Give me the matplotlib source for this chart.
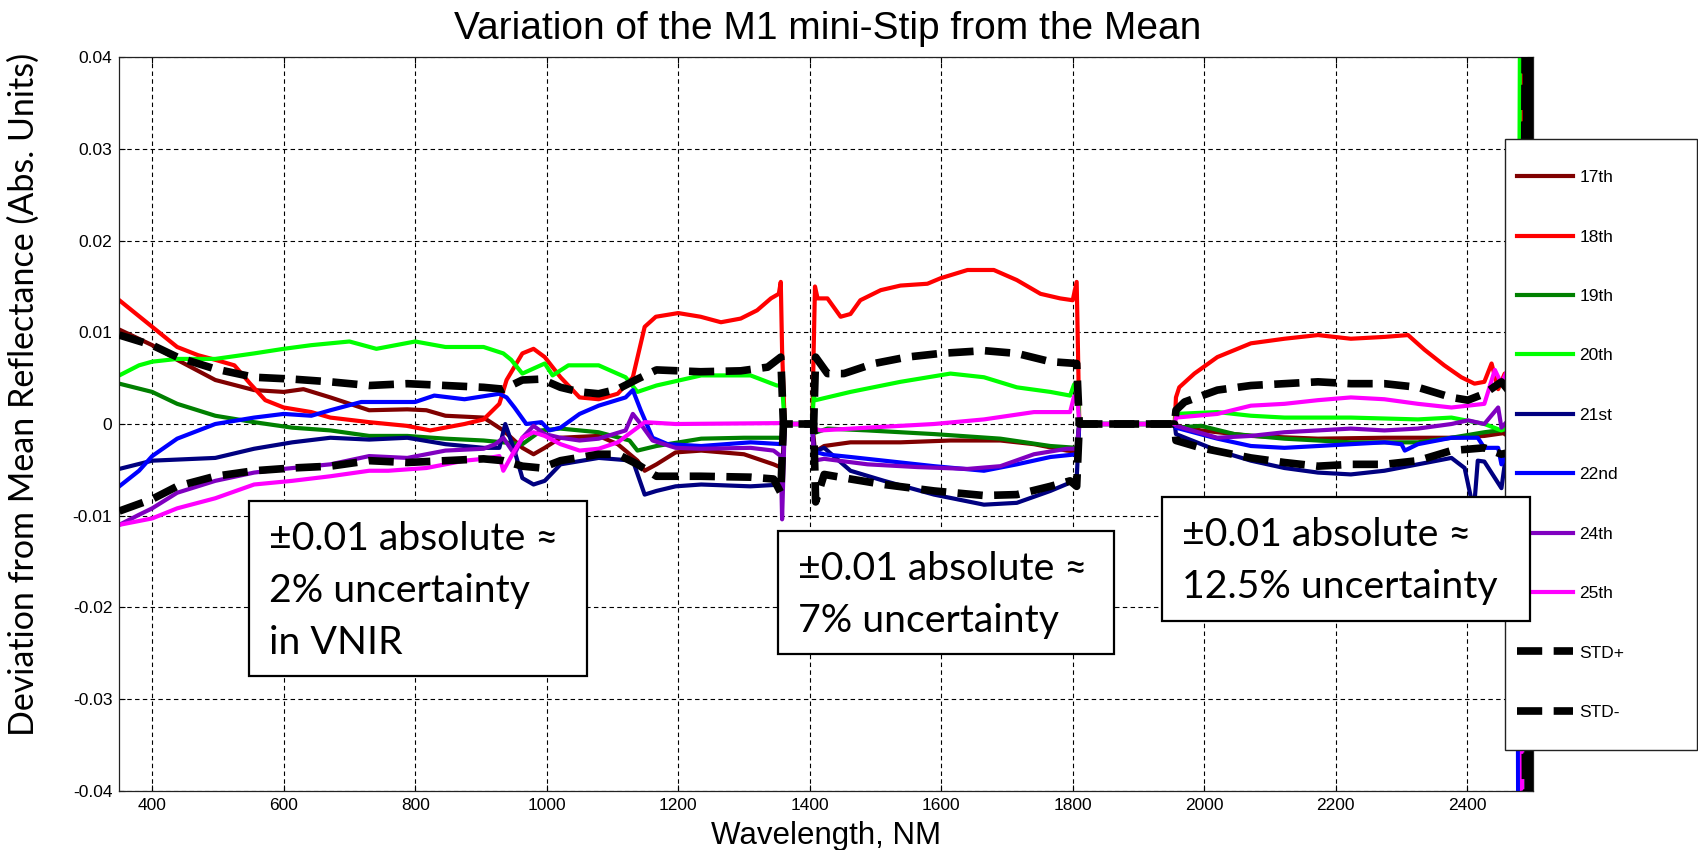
import matplotlib
matplotlib.use("Agg")
import matplotlib.pyplot as plt
from matplotlib.patches import Rectangle

W, H = 1698, 850

# series: (wavelength nm, deviation)
dev_17th = [(350, .0103), (400, .0086), (438, .007), (496, .0048), (555, .0037), (600, .0035), (630, .0038),
            (671, .0029), (730, .0015), (788, .0016), (817, .0015), (846, .0009), (904, .0007), (934, -.0007),
            (963, -.0026), (980, -.0033), (997, -.0026), (1021, -.0015), (1079, -.0013), (1108, -.0022),
            (1138, -.004), (1149, -.0051), (1167, -.0044), (1196, -.0031), (1235, -.0029), (1300, -.0033),
            (1345, -.0044), (1358, -.0048), (1362, 0), (1404, 0), (1408, -.003), (1422, -.0024), (1462, -.002),
            (1538, -.002), (1614, -.0018), (1690, -.0018), (1741, -.0022), (1791, -.0029), (1806, -.003),
            (1810, 0), (1955, 0), (1957, -.0002), (1995, -.0007), (2071, -.0013), (2173, -.0016), (2274, -.0015),
            (2376, -.0015), (2426, -.0013), (2455, -.001), (2476, -.002), (2482, -.002), (2486, .06)]

dev_18th = [(350, .0135), (400, .0106), (438, .0084), (470, .0075), (496, .007), (525, .0064), (549, .0044),
            (572, .0026), (600, .0018), (642, .0013), (671, .0007), (730, .0002), (787, -.0002), (823, -.0007),
            (875, 0), (904, .0005), (928, .0022), (939, .0048), (963, .0077), (980, .0082), (997, .0073),
            (1021, .0051), (1050, .0029), (1079, .0027), (1108, .0033), (1131, .0051), (1149, .0106),
            (1166, .0117), (1200, .0121), (1234, .0117), (1265, .0111), (1295, .0115), (1320, .0124),
            (1341, .0137), (1353, .0142), (1356, .0155), (1358, .008), (1362, 0), (1404, 0), (1406, .008),
            (1408, .015), (1412, .0137), (1427, .0137), (1447, .0117), (1462, .012), (1477, .0135), (1508, .0146),
            (1538, .0151), (1579, .0153), (1599, .0159), (1640, .0168), (1680, .0168), (1715, .0157),
            (1751, .0142), (1781, .0137), (1800, .0135), (1806, .0155), (1808, .008), (1810, 0), (1955, 0),
            (1957, .0029), (1962, .004), (1985, .0055), (2020, .0073), (2071, .0088), (2122, .0093),
            (2173, .0097), (2223, .0093), (2274, .0095), (2310, .0097), (2335, .0081), (2365, .0064),
            (2391, .0051), (2411, .0044), (2426, .0046), (2437, .0066), (2447, .0038), (2457, .0055),
            (2470, .005), (2482, .004), (2486, .06)]

dev_19th = [(350, .0044), (400, .0035), (438, .0022), (496, .0009), (555, .0002), (613, -.0004), (671, -.0007),
            (730, -.0013), (788, -.0013), (846, -.0016), (904, -.0018), (963, -.0022), (992, -.0007),
            (1021, -.0005), (1079, -.0009), (1126, -.0018), (1138, -.0029), (1167, -.0024), (1235, -.0016),
            (1300, -.0015), (1358, -.0015), (1362, 0), (1404, 0), (1406, -.001), (1427, -.0005), (1488, -.0007),
            (1589, -.0011), (1690, -.0016), (1766, -.0024), (1806, -.0026), (1810, 0), (1955, 0), (1957, -.0004),
            (1995, -.0002), (2046, -.0011), (2122, -.0016), (2223, -.002), (2325, -.002), (2376, -.0015),
            (2426, -.0009), (2470, -.0005), (2482, -.001), (2486, -.06)]

dev_20th = [(350, .0053), (380, .0064), (400, .0068), (438, .0071), (496, .0071), (555, .0077), (600, .0082),
            (642, .0086), (700, .009), (741, .0082), (800, .009), (846, .0084), (904, .0084), (934, .0077),
            (946, .007), (963, .0055), (997, .0066), (1009, .0053), (1033, .0064), (1079, .0064), (1120, .0051),
            (1138, .0035), (1167, .0042), (1235, .0053), (1310, .0053), (1350, .0042), (1358, .0042), (1362, 0),
            (1404, 0), (1406, .003), (1409, .0026), (1462, .0035), (1538, .0046), (1614, .0055), (1665, .0051),
            (1715, .004), (1766, .0035), (1796, .0031), (1802, .0043), (1808, .004), (1810, 0), (1955, 0),
            (1957, .0011), (2020, .0013), (2071, .0009), (2122, .0007), (2223, .0007), (2325, .0005),
            (2376, .0007), (2426, 0), (2452, -.0007), (2470, 0), (2478, 0), (2481, .06)]

dev_21st = [(350, -.0049), (400, -.004), (496, -.0037), (555, -.0027), (613, -.002), (671, -.0015), (730, -.0017),
            (788, -.0015), (846, -.0022), (904, -.0026), (928, -.0026), (937, 0), (951, -.0029), (963, -.0059),
            (980, -.0066), (997, -.0062), (1021, -.0044), (1079, -.0037), (1131, -.004), (1149, -.0077),
            (1167, -.0073), (1196, -.0068), (1235, -.0066), (1310, -.0068), (1358, -.0066), (1362, 0), (1404, 0),
            (1406, -.003), (1422, -.0026), (1462, -.0051), (1513, -.0062), (1589, -.0077), (1665, -.0088),
            (1715, -.0086), (1766, -.0073), (1796, -.0064), (1806, -.006), (1810, 0), (1955, 0), (1957, -.0011),
            (2020, -.0029), (2071, -.004), (2122, -.0048), (2173, -.0053), (2223, -.0055), (2274, -.0051),
            (2325, -.0044), (2376, -.0037), (2396, -.0048), (2410, -.0095), (2416, -.004), (2426, -.0041),
            (2452, -.007), (2457, -.0044), (2470, -.003), (2478, -.003), (2480, -.06)]

dev_22nd = [(350, -.0068), (380, -.0051), (400, -.0035), (438, -.0016), (496, 0), (555, .0007), (600, .0011),
            (642, .0009), (671, .0015), (718, .0024), (800, .0024), (829, .0031), (875, .0027), (928, .0033),
            (939, .0029), (951, .0018), (969, 0), (992, .0002), (1004, -.0007), (1021, -.0004), (1050, .0011),
            (1079, .002), (1120, .0029), (1131, .0037), (1143, .0015), (1161, -.0015), (1184, -.0022),
            (1235, -.0024), (1310, -.002), (1358, -.0022), (1362, 0), (1404, 0), (1406, -.003), (1422, -.0033),
            (1462, -.0036), (1513, -.004), (1589, -.0046), (1665, -.0051), (1715, -.0044), (1766, -.0036),
            (1806, -.0033), (1810, 0), (1955, 0), (1957, -.0004), (2020, -.0016), (2071, -.0024), (2122, -.0026),
            (2173, -.0024), (2223, -.0022), (2274, -.002), (2300, -.0022), (2305, -.0029), (2325, -.0022),
            (2376, -.0015), (2416, -.0015), (2426, -.0026), (2447, -.0026), (2452, -.0044), (2470, -.002),
            (2476, -.002), (2478, -.06)]

dev_24th = [(350, -.011), (380, -.0099), (400, -.0092), (438, -.0075), (496, -.0062), (555, -.0053), (600, -.0049),
            (671, -.0044), (730, -.0035), (788, -.0037), (817, -.0033), (846, -.0029), (904, -.0027),
            (922, -.0022), (934, -.0015), (951, -.0033), (963, -.0015), (980, -.0002), (997, -.0011),
            (1021, -.0015), (1050, -.0018), (1079, -.0016), (1120, -.0007), (1131, .0011), (1143, 0),
            (1161, -.0018), (1196, -.0026), (1235, -.0027), (1310, -.0026), (1345, -.0029), (1356, -.0035),
            (1358, -.0104), (1362, 0), (1404, 0), (1406, -.004), (1422, -.0038), (1488, -.0044), (1564, -.0047),
            (1640, -.0049), (1690, -.0046), (1741, -.0033), (1791, -.0027), (1806, -.0027), (1810, 0), (1955, 0),
            (1957, -.0002), (2020, -.0015), (2071, -.0013), (2122, -.0009), (2173, -.0007), (2223, -.0005),
            (2274, -.0007), (2325, -.0005), (2376, 0), (2401, .0004), (2426, 0), (2447, .0018), (2452, -.0004),
            (2470, .001), (2482, 0), (2485, -.06)]

dev_25th = [(350, -.011), (400, -.0103), (438, -.0092), (496, -.0081), (555, -.0066), (613, -.0062), (671, -.0057),
            (730, -.0051), (759, -.0051), (817, -.0048), (875, -.004), (904, -.0038), (928, -.0035),
            (934, -.0051), (951, -.0029), (963, -.0015), (980, -.0009), (997, -.0013), (1021, -.0022),
            (1050, -.0029), (1079, -.0027), (1108, -.002), (1138, -.0004), (1149, .0002), (1196, 0),
            (1358, .0001), (1362, 0), (1404, 0), (1406, -.0005), (1417, -.0007), (1488, -.0004), (1589, 0),
            (1665, .0005), (1741, .0013), (1796, .0013), (1802, .003), (1808, .002), (1810, 0), (1955, 0),
            (1957, .0007), (2020, .0011), (2071, .002), (2122, .0022), (2173, .0026), (2223, .0029),
            (2274, .0027), (2325, .0022), (2376, .0018), (2426, .0022), (2442, .0059), (2452, .0044),
            (2462, .006), (2470, .002), (2482, .002), (2484, -.06)]

std_plus = [(350, .0097), (400, .0086), (438, .0073), (496, .006), (555, .0051), (613, .0049), (671, .0046),
            (730, .0042), (788, .0044), (846, .0042), (904, .004), (934, .0038), (963, .0048), (992, .0049),
            (1021, .004), (1050, .0035), (1079, .0033), (1108, .0038), (1138, .0049), (1167, .0059),
            (1234, .0057), (1295, .0058), (1336, .0062), (1356, .0073), (1360, 0), (1406, 0), (1409, .0073),
            (1427, .0055), (1452, .0055), (1498, .0066), (1548, .0073), (1599, .0077), (1665, .008),
            (1715, .0077), (1766, .0068), (1806, .0066), (1810, 0), (1955, 0), (1957, .0015), (1970, .0024),
            (2020, .0037), (2071, .0042), (2122, .0044), (2173, .0046), (2223, .0044), (2274, .0044),
            (2325, .004), (2376, .0029), (2401, .0026), (2426, .0033), (2452, .0046), (2470, .003),
            (2486, .003), (2489, .06), (2494, -.06), (2500, .06)]

std_minus = [(350, -.0095), (400, -.0082), (438, -.0068), (496, -.0057), (555, -.0051), (613, -.0048),
             (671, -.0046), (730, -.004), (788, -.0042), (846, -.004), (904, -.0038), (934, -.004), (963, -.0046),
             (992, -.0048), (1021, -.004), (1079, -.0033), (1108, -.0033), (1138, -.0044), (1167, -.0057),
             (1234, -.0057), (1310, -.0058), (1345, -.006), (1356, -.0075), (1360, 0), (1406, 0), (1409, -.0085),
             (1422, -.0055), (1462, -.006), (1513, -.0066), (1589, -.0073), (1665, -.0078), (1715, -.0077),
             (1766, -.0068), (1796, -.0062), (1806, -.0068), (1810, 0), (1955, 0), (1957, -.0018),
             (1995, -.0026), (2071, -.0037), (2122, -.0042), (2173, -.0046), (2223, -.0044), (2274, -.0044),
             (2325, -.004), (2376, -.0029), (2426, -.0026), (2452, -.0033), (2470, -.003), (2486, -.003),
             (2490, -.06), (2496, .06), (2500, -.06)]

labels = ["17th", "18th", "19th", "20th", "21st", "22nd", "24th", "25th", "STD+", "STD-"]
series = [dev_17th, dev_18th, dev_19th, dev_20th, dev_21st, dev_22nd, dev_24th, dev_25th, std_plus, std_minus]
colors = ["#800000", "#ff0000", "#008000", "#00ff00", "#000080", "#0000ff", "#8000c0", "#ff00ff", "black", "black"]

xticks = [400, 600, 800, 1000, 1200, 1400, 1600, 1800, 2000, 2200, 2400]
yticks = [-0.04, -0.03, -0.02, -0.01, 0, 0.01, 0.02, 0.03, 0.04]
ytick_labels = ["-0.04", "-0.03", "-0.02", "-0.01", "0", "0.01", "0.02", "0.03", "0.04"]

notes = [["\u00b10.01 absolute \u2248", "2% uncertainty", "in VNIR"],
         ["\u00b10.01 absolute \u2248", "7% uncertainty"],
         ["\u00b10.01 absolute \u2248", "12.5% uncertainty"]]
# note boxes in pixels: left, top, right, bottom
note_boxes = [(249, 501, 587, 676), (778, 531, 1114, 654), (1162, 497, 1530, 621)]


def fx(px):
    return px / W


def fy(py):
    return 1 - py / H


plt.rcParams['font.family'] = ['Liberation Sans', 'DejaVu Sans']

fig = plt.figure(figsize=(W / 100, H / 100), dpi=100)
ax = fig.add_axes([fx(119.3), fy(790.7), (1533 - 119.3) / W, (790.7 - 57.3) / H])

handles = []
for data, label, color in zip(series, labels, colors):
    x = [p[0] for p in data]
    y = [p[1] for p in data]
    if label.startswith("STD"):
        line, = ax.plot(x, y, color=color, lw=5.5, linestyle="--", dashes=(3.3, 1.5), zorder=3)
    else:
        line, = ax.plot(x, y, color=color, lw=3.0, zorder=2)
    handles.append(line)

ax.set_xlim(350, 2500)
ax.set_ylim(-0.04, 0.04)
ax.set_xticks(xticks)
ax.set_xticklabels([str(t) for t in xticks])
ax.set_yticks(yticks)
ax.set_yticklabels(ytick_labels)
ax.tick_params(direction="in", length=4, width=0.8, top=True, right=True, labelsize=12.5, pad=5)
ax.grid(True, color="black", linewidth=0.8, linestyle=(0, (4, 3)))
for s in ax.spines.values():
    s.set_linewidth(0.9)
    s.set_color("#222222")

fig.text(fx(828), fy(39), "Variation of the M1 mini-Stip from the Mean", ha="center", va="baseline", fontsize=28)
fig.text(fx(826), fy(844), "Wavelength, NM", ha="center", va="baseline", fontsize=22.5)
fig.text(fx(24), fy(394), "Deviation from Mean Reflectance (Abs. Units)", rotation=90, ha="center",
         va="center", fontsize=24.5, family=["Lato", "DejaVu Sans"])

# legend frame, then legend entries on top of it
fig.add_artist(Rectangle((fx(1505), fy(750)), (1697 - 1505) / W, (750 - 139) / H, transform=fig.transFigure,
                         facecolor="white", edgecolor="#222222", lw=1.0, zorder=3))
leg = fig.legend(handles, labels, loc="upper left", bbox_to_anchor=(fx(1517), fy(170)), frameon=False,
                 fontsize=12.5, handlelength=3.2, handletextpad=0.4, labelspacing=2.55, borderpad=0,
                 borderaxespad=0)
leg.set_zorder(4)

for lines, (x0, y0, x1, y1) in zip(notes, note_boxes):
    fig.add_artist(Rectangle((fx(x0), fy(y1)), (x1 - x0) / W, (y1 - y0) / H, transform=fig.transFigure,
                             facecolor="white", edgecolor="black", lw=1.6, zorder=5))
    for k, text in enumerate(lines):
        fig.text(fx(x0 + 20), fy(y0 + 49 + 52 * k), text, ha="left", va="baseline", fontsize=28.3,
                 family=["Lato", "DejaVu Sans"], zorder=6)

fig.savefig("out.png", dpi=100)
